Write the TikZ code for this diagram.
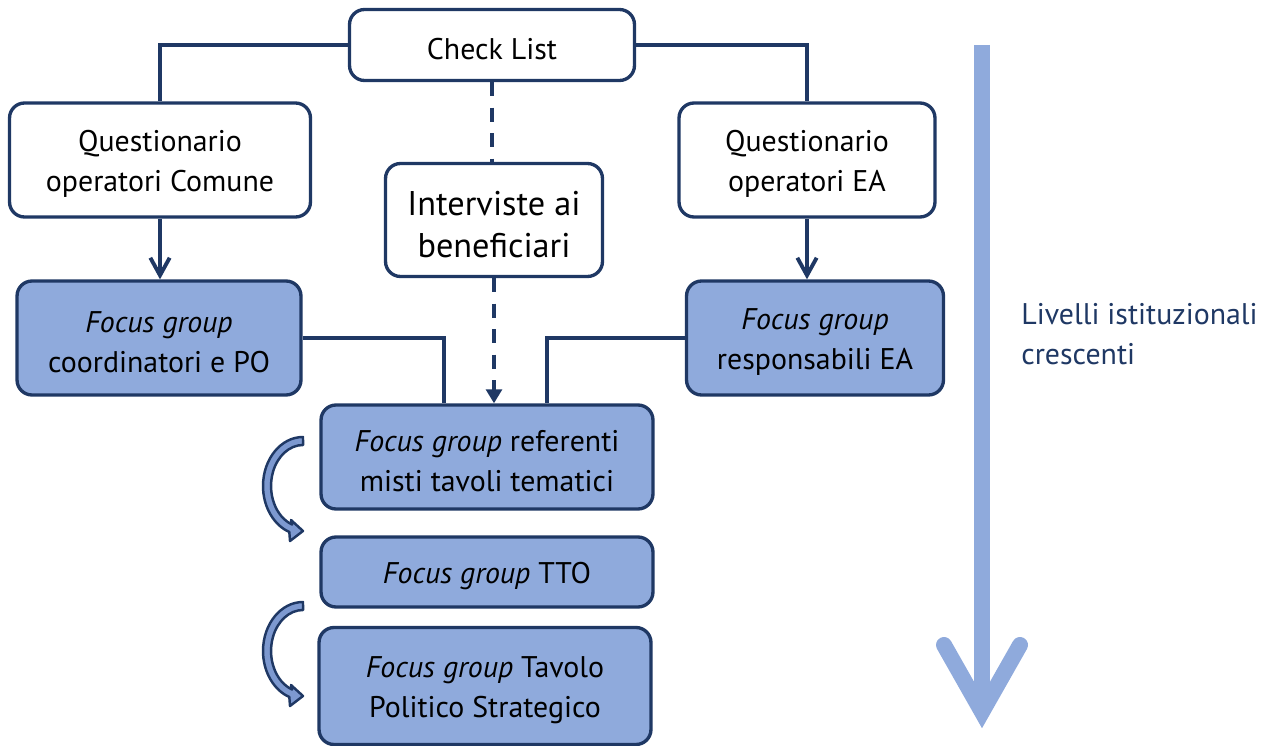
\documentclass[tikz,border=0pt]{standalone}
\usepackage{fontspec}
\setmainfont{PT Sans}
\usetikzlibrary{arrows.meta,calc}
\definecolor{navy}{HTML}{1F3864}
\definecolor{fgblue}{HTML}{8FAADC}
\definecolor{curvblue}{HTML}{7D99D0}
\newcommand\fsz{\fontsize{17}{22.5}\selectfont}
\newcommand\fbig{\fontsize{19.5}{23.5}\selectfont}
\newcommand\up{\rule{0pt}{16.5pt}}
\tikzset{
  box/.style={draw=navy, line width=1.9pt, rounded corners=0.3cm, fill=white,
    align=center, inner sep=0pt, font=\fsz, text=black},
  fbox/.style={box, fill=fgblue},
  conn/.style={draw=navy, line width=2.2pt},
  arr/.style={conn, -{Straight Barb[length=10pt,width=11pt,line width=2.2pt]}},
  dashconn/.style={conn, dash pattern=on 8pt off 6.5pt},
  bigarrow/.style={draw=fgblue, line width=0.32cm},
  curv/.style={draw=navy, line width=1.4pt, fill=curvblue, line join=round}
}
\begin{document}
\begin{tikzpicture}[x=0.02cm,y=0.02cm]
\useasboundingbox (0,0) rectangle (1264,-746);

\node[box, minimum width=5.7cm, minimum height=1.42cm] (cl) at (492,-45) {\up Check List};
\node[box, minimum width=6.02cm, minimum height=2.28cm] (qc) at (160,-160) {\up Questionario\\operatori Comune};
\node[box, minimum width=4.34cm, minimum height=2.26cm, font=\fbig] (int) at (494,-220) {\rule{0pt}{19pt}Interviste ai\\beneficiari};
\node[box, minimum width=5.12cm, minimum height=2.28cm] (qea) at (807,-160) {\up Questionario\\operatori EA};
\node[fbox, minimum width=5.68cm, minimum height=2.28cm] (fc) at (159,-338) {\up\textit{Focus group}\\coordinatori e PO};
\node[fbox, minimum width=5.14cm, minimum height=2.28cm] (fr) at (815,-338) {\up\textit{Focus group}\\responsabili EA};
\node[fbox, minimum width=6.64cm, minimum height=2.08cm] (fm) at (487,-457) {\up\textit{Focus group} referenti\\misti tavoli tematici};
\node[fbox, minimum width=6.64cm, minimum height=1.4cm] (ft) at (487,-572) {\up\textit{Focus group} TTO};
\node[fbox, minimum width=6.64cm, minimum height=2.34cm] (fp) at (485,-686) {\up\textit{Focus group} Tavolo\\Politico Strategico};

\node[anchor=west, align=left, text=navy, font=\fsz, inner sep=0pt] (liv) at (1021,-334) {Livelli istituzionali\\crescenti};

% connectors
\draw[conn] (cl.west) -| (qc.north);
\draw[conn] (cl.east) -| (qea.north);
\draw[dashconn] (cl.south) -- (cl.south |- int.north);
\draw[dashconn, -{Triangle[length=8pt,width=9pt]}] (int.south) -- (int.south |- fm.north);
\draw[arr] (qc.south) -- (qc.south |- fc.north);
\draw[arr] (qea.south) -- (qea.south |- fr.north);
\draw[conn] (fc.east) -| ($(fm.north)+(-43,0)$);
\draw[conn] (fr.west) -| ($(fm.north)+(60,0)$);

% big arrow
\coordinate (ta) at (982,-45);
\coordinate (tb) at (982,-712);
\coordinate (la) at (944,-645);
\coordinate (ra) at (1020,-645);
\draw[bigarrow] (ta) -- (tb);
\draw[bigarrow, line cap=round, line join=miter] (la) -- (tb) -- (ra);

% curved arrows
\foreach \s in {0,-165}{
\begin{scope}[yshift=\s*0.02cm]
\draw[curv] (303,-437) arc[start angle=90,end angle=250,x radius=0.8cm,y radius=0.98cm]
  -- (290,-541) -- (303,-531) -- (291,-520) -- (292.1,-524.5)
  arc[start angle=250,end angle=90,x radius=0.64cm,y radius=0.82cm] -- cycle;
\end{scope}}
\end{tikzpicture}
\end{document}
